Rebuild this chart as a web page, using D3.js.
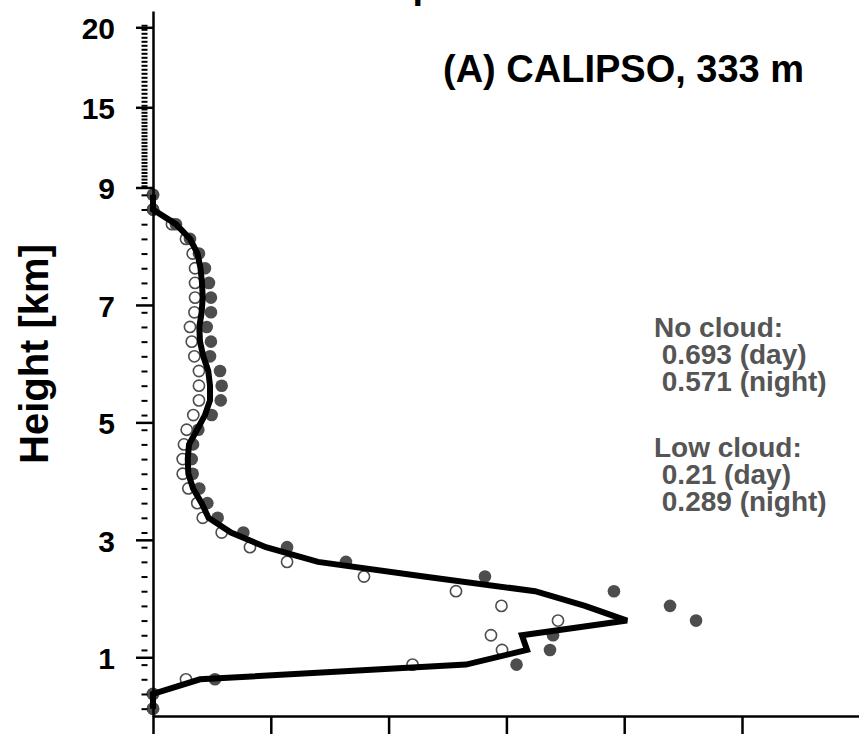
<!DOCTYPE html>
<html>
<head>
<meta charset="utf-8">
<script src="https://cdn.jsdelivr.net/npm/d3@7"></script>
<style>
  body { margin: 0; background: #fff; }
  text { font-family: "Liberation Sans", Arial, sans-serif; font-weight: bold; }
</style>
</head>
<body>
<div id="chart"></div>
<script>
// centre of each 250 m layer (km)
var heights = [8.875, 8.625, 8.375, 8.125, 7.875, 7.625, 7.375, 7.125, 6.875, 6.625,
               6.375, 6.125, 5.875, 5.625, 5.375, 5.125, 4.875, 4.625, 4.375, 4.125,
               3.875, 3.625, 3.375, 3.125, 2.875, 2.625, 2.375, 2.125, 1.875, 1.625,
               1.375, 1.125, 0.875, 0.625, 0.375, 0.125];

// thick black profile
var lineVals = [0, 0, 0.195, 0.314, 0.378, 0.403, 0.416, 0.422, 0.413, 0.393,
                0.399, 0.427, 0.469, 0.484, 0.484, 0.441, 0.374, 0.306, 0.295, 0.300,
                0.340, 0.413, 0.471, 0.662, 0.959, 1.401, 2.300, 3.243, 3.667, 4.024,
                3.132, 3.175, 2.657, 0.399, 0, 0];

// filled dots
var filledVals = [0, 0, 0.195, 0.314, 0.390, 0.441, 0.475, 0.492, 0.492, 0.456,
                  0.492, 0.484, 0.569, 0.583, 0.575, 0.498, 0.385, 0.340, 0.329, 0.337,
                  0.393, 0.461, 0.549, 0.767, 1.138, 1.638, 2.818, 3.913, 4.389, 4.610,
                  3.396, 3.370, 3.086, 0.526, 0, 0];

// open dots
var openVals = [0, 0, 0.161, 0.280, 0.337, 0.357, 0.357, 0.357, 0.352, 0.314,
                0.329, 0.351, 0.390, 0.390, 0.390, 0.342, 0.286, 0.263, 0.252, 0.252,
                0.300, 0.376, 0.422, 0.583, 0.823, 1.138, 1.791, 2.572, 2.958, 3.438,
                2.869, 2.963, 2.203, 0.280, 0, 0];

var yTicks = [1, 3, 5, 7, 9, 15, 20];
var xTicks = [0, 1, 2, 3, 4, 5, 6];
var yLabel = "Height [km]";
var panelLabel = "(A) CALIPSO, 333 m";
var noCloudLines = ["No cloud:", " 0.693 (day)", " 0.571 (night)"];
var lowCloudLines = ["Low cloud:", " 0.21 (day)", " 0.289 (night)"];
var titleText = "Vertical profile";

var width = 859, height = 734;

var svg = d3.select("#chart")
  .append("svg")
    .attr("width", width)
    .attr("height", height);

// x: 0..6, y: linear to 9 km then squeezed above
var x = d3.scaleLinear().domain([0, 6]).range([153, 859.8]);
var y = d3.scaleLinear()
  .domain([0, 9, 15, 20, 21])
  .range([716, 187.5, 107.3, 27.3, 11]);

// cut-off title at the top, only the descender shows
var title = svg.append("text")
  .attr("y", -2)
  .attr("font-size", 38)
  .text(titleText);
var pIdx = titleText.indexOf("p");
title.attr("x", 412.5 - title.node().getSubStringLength(0, pIdx));

// dots
var rows = heights.map(function(h, i) {
  return {h: h, line: lineVals[i], filled: filledVals[i], open: openVals[i]};
});

svg.selectAll(".open")
  .data(rows)
  .enter()
  .append("circle")
    .attr("class", "open")
    .attr("cx", d => x(d.open))
    .attr("cy", d => y(d.h))
    .attr("r", 5.6)
    .attr("fill", "#fff")
    .attr("stroke", "#4d4d4d")
    .attr("stroke-width", 1.6);

svg.selectAll(".filled")
  .data(rows)
  .enter()
  .append("circle")
    .attr("class", "filled")
    .attr("cx", d => x(d.filled))
    .attr("cy", d => y(d.h))
    .attr("r", 6.3)
    .attr("fill", "#4d4d4d");

// profile line
var line = d3.line()
  .x(d => x(d.line))
  .y(d => y(d.h));

svg.append("path")
  .datum(rows)
  .attr("d", line)
  .attr("fill", "none")
  .attr("stroke", "#000")
  .attr("stroke-width", 6)
  .attr("stroke-linejoin", "miter");

// minor ticks at layer centres
var minor = d3.range(0.125, 20.2, 0.25);
var minorG = svg.append("g")
  .attr("transform", "translate(147.5,0)")
  .call(d3.axisLeft(y).tickValues(minor).tickSize(6).tickFormat(""));
minorG.select(".domain").remove();
minorG.selectAll("line").attr("stroke", "#000").attr("stroke-width", 2);

// y axis
var yAxisG = svg.append("g")
  .attr("transform", "translate(153,0)")
  .call(d3.axisLeft(y).tickValues(yTicks).tickSize(17).tickSizeOuter(0).tickPadding(21));
yAxisG.select(".domain").attr("stroke-width", 2.5);
yAxisG.selectAll("line").attr("stroke-width", 2.5);
yAxisG.selectAll("text")
  .attr("font-size", 30)
  .attr("font-family", "Liberation Sans, Arial, sans-serif")
  .attr("font-weight", "bold")
  .attr("fill", "#000")
  .attr("dy", "0.38em");

// x axis (labels fall below the picture)
var xAxisG = svg.append("g")
  .attr("transform", "translate(0,716)")
  .call(d3.axisBottom(x).tickValues(xTicks).tickSize(20).tickSizeOuter(0).tickFormat(""));
xAxisG.select(".domain").attr("stroke-width", 2.5);
xAxisG.selectAll("line").attr("stroke-width", 2.5);

// axis label
svg.append("text")
  .attr("transform", "translate(48,354) rotate(-90)")
  .attr("text-anchor", "middle")
  .attr("font-size", 40)
  .text(yLabel);

// panel label
svg.append("text")
  .attr("x", 443)
  .attr("y", 82)
  .attr("font-size", 38)
  .text(panelLabel);

// stats, one text block per group
function statBlock(lines, y0) {
  var t = svg.append("text")
    .attr("x", 654)
    .attr("y", y0)
    .attr("font-size", 28)
    .attr("fill", "#555")
    .style("white-space", "pre");
  t.selectAll("tspan")
    .data(lines)
    .enter()
    .append("tspan")
      .attr("x", 654)
      .attr("dy", (d, i) => i === 0 ? 0 : 27)
      .text(d => d);
}
statBlock(noCloudLines, 336.7);
statBlock(lowCloudLines, 456.7);
</script>
</body>
</html>
